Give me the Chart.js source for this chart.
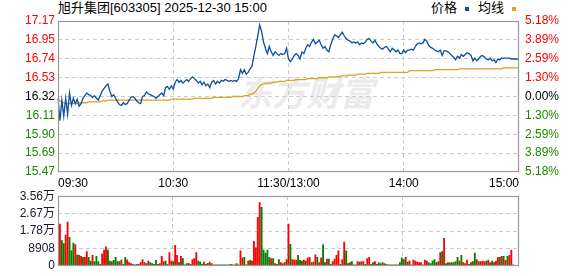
<!DOCTYPE html>
<html><head><meta charset="utf-8">
<script src="https://cdn.jsdelivr.net/npm/chart.js@4"></script>
<style>
html,body{margin:0;padding:0;background:#fff;width:578px;height:276px;overflow:hidden;}
#wrap{position:relative;width:578px;height:276px;font-family:"Liberation Sans","Noto Sans CJK SC",sans-serif;}
.t{position:absolute;font-size:13px;color:#000;white-space:nowrap;line-height:16px;}
#title{left:58px;top:0px;}
#legend{left:431px;top:0px;}
.sw{display:inline-block;width:4px;height:4px;vertical-align:middle;margin:0 9px 0 8px;}
#wm{position:absolute;left:238px;top:72px;font-size:34px;font-weight:bold;font-style:italic;color:#ebebeb;font-family:"Noto Sans CJK SC",sans-serif;line-height:40px;}
canvas{position:absolute;left:0;}
</style></head>
<body><div id="wrap">
<div id="wm">东方财富</div>
<div id="title" class="t">旭升集团[603305] 2025-12-30 15:00</div>
<div id="legend" class="t">价格<span class="sw" style="background:#0a4fa0"></span>均线<span class="sw" style="background:#e0a020"></span></div>
<canvas id="c1" width="578" height="192" style="top:0"></canvas>
<canvas id="c2" width="578" height="90" style="top:186px"></canvas>
</div>
<script>
const timeTickIdx = [0, 60, 120, 180, 240];
const timeTickLabels = ['09:30', '10:30', '11:30/13:00', '14:00', '15:00'];

const priceTicks = [15.4746, 15.6860, 15.8973, 16.1087, 16.32, 16.5313, 16.7427, 16.9540, 17.1654];
const priceLabels = ['15.47', '15.69', '15.90', '16.11', '16.32', '16.53', '16.74', '16.95', '17.17'];
const pctLabels = ['5.18%', '3.89%', '2.59%', '1.30%', '0.00%', '1.30%', '2.59%', '3.89%', '5.18%'];

const volTicks = [0, 8908, 17816, 26724, 35632];
const volLabels = ['0', '8908', '1.78万', '2.67万', '3.56万'];

const price = [
16.30,16.05,16.28,16.10,16.30,16.12,16.36,16.22,16.30,16.24,
16.29,16.21,16.24,16.30,16.33,16.36,16.34,16.33,16.31,16.33,
16.30,16.28,16.33,16.38,16.41,16.44,16.46,16.38,16.32,16.34,
16.30,16.26,16.23,16.22,16.25,16.23,16.24,16.28,16.31,16.32,
16.30,16.27,16.25,16.24,16.32,16.33,16.37,16.35,16.34,16.33,
16.32,16.30,16.32,16.34,16.36,16.33,16.42,16.43,16.40,16.44,
16.40,16.48,16.51,16.48,16.50,16.47,16.49,16.51,16.49,16.52,
16.54,16.52,16.50,16.47,16.49,16.45,16.48,16.44,16.46,16.42,
16.48,16.50,16.46,16.49,16.47,16.50,16.49,16.51,16.50,16.49,
16.50,16.49,16.50,16.49,16.52,16.62,16.58,16.62,16.57,16.59,
16.63,16.66,16.78,16.88,17.00,17.12,17.05,16.93,16.86,16.80,
16.88,16.82,16.78,16.82,16.80,16.78,16.80,16.79,16.80,16.86,
16.74,16.71,16.74,16.78,16.80,16.78,16.74,16.82,16.80,16.86,
16.90,16.88,16.93,16.96,16.91,16.93,16.95,16.90,16.86,16.88,
16.84,16.82,16.90,16.96,17.01,17.00,16.98,17.01,17.04,17.00,
16.97,16.95,16.94,16.92,16.93,16.92,16.93,16.90,16.92,16.91,
16.93,16.96,16.97,16.94,16.92,16.95,16.91,16.88,16.86,16.85,
16.87,16.88,16.85,16.82,16.86,16.84,16.82,16.84,16.80,16.80,
16.84,16.81,16.84,16.84,16.85,16.84,16.88,16.91,16.92,16.91,
16.92,16.96,16.94,16.89,16.87,16.86,16.84,16.83,16.82,16.84,
16.78,16.83,16.83,16.82,16.80,16.78,16.76,16.73,16.77,16.75,
16.79,16.77,16.79,16.81,16.80,16.78,16.72,16.75,16.72,16.74,
16.77,16.78,16.76,16.74,16.73,16.75,16.72,16.73,16.70,16.74,
16.73,16.75,16.75,16.75,16.75,16.75,16.74,16.74,16.74,16.74,16.73
];

const avgPrice = [
16.30,16.27,16.26,16.25,16.24,16.24,16.24,16.24,16.24,16.24,
16.24,16.25,16.25,16.25,16.25,16.25,16.26,16.26,16.26,16.26,
16.26,16.26,16.26,16.27,16.27,16.27,16.28,16.28,16.28,16.28,
16.28,16.28,16.28,16.28,16.28,16.28,16.28,16.28,16.28,16.28,
16.28,16.28,16.28,16.28,16.28,16.28,16.28,16.28,16.28,16.28,
16.28,16.28,16.28,16.28,16.28,16.28,16.28,16.28,16.28,16.29,
16.29,16.29,16.29,16.29,16.29,16.29,16.29,16.29,16.29,16.29,
16.29,16.30,16.30,16.30,16.30,16.30,16.30,16.30,16.30,16.30,
16.30,16.31,16.31,16.31,16.31,16.31,16.31,16.31,16.31,16.31,
16.31,16.32,16.32,16.32,16.32,16.32,16.32,16.33,16.33,16.33,
16.34,16.35,16.36,16.38,16.41,16.44,16.45,16.46,16.47,16.47,
16.47,16.47,16.48,16.48,16.48,16.49,16.49,16.49,16.49,16.50,
16.50,16.50,16.50,16.50,16.51,16.51,16.51,16.51,16.51,16.51,
16.52,16.52,16.52,16.52,16.52,16.52,16.53,16.53,16.53,16.53,
16.53,16.54,16.54,16.54,16.54,16.54,16.54,16.55,16.55,16.55,
16.55,16.56,16.56,16.56,16.56,16.56,16.57,16.57,16.57,16.57,
16.57,16.58,16.58,16.58,16.58,16.58,16.58,16.58,16.59,16.59,
16.59,16.59,16.59,16.59,16.59,16.59,16.59,16.59,16.59,16.59,
16.59,16.59,16.59,16.61,16.61,16.61,16.61,16.61,16.61,16.61,
16.61,16.61,16.61,16.61,16.61,16.61,16.62,16.62,16.62,16.62,
16.62,16.62,16.62,16.62,16.62,16.62,16.62,16.62,16.62,16.63,
16.63,16.63,16.63,16.63,16.63,16.63,16.63,16.63,16.63,16.63,
16.63,16.63,16.63,16.63,16.63,16.63,16.63,16.63,16.63,16.63,
16.63,16.63,16.64,16.64,16.64,16.64,16.64,16.64,16.64,16.64,16.64
];

const volume = [
33210,21384,12960,11340,15714,22356,14580,7614,11664,10854,
5670,5346,4860,4374,4374,7290,4374,2430,5346,2106,
4860,2106,810,5994,8100,9720,8100,2430,2106,2754,
4374,2106,2106,2916,810,4374,3078,1620,1134,810,
486,810,810,1620,3240,1620,1134,2430,1620,1134,
810,2754,810,1134,4860,2106,2430,810,6804,2430,
2106,10530,5346,1620,4860,3726,486,1134,1296,810,
3240,3726,6804,2430,1944,810,1944,810,1296,1944,
1134,486,486,486,486,486,486,486,486,486,
810,486,486,1134,486,7614,4050,4374,486,2430,
2916,2430,12474,9234,24786,32400,29970,8100,6480,8100,
4374,3726,3726,1134,810,3240,1620,1134,1620,3240,
21384,11016,3240,2916,2916,5346,2754,2430,2916,2430,
4050,4374,1620,1944,5670,4374,1620,4050,10854,1620,
3402,3402,810,2106,3402,5346,7614,810,3240,12150,
7614,1134,1620,2106,486,486,2106,1944,2106,2106,
810,3726,4374,810,1620,2106,810,1620,1134,1620,
1134,810,486,486,486,486,486,486,1620,4050,
3240,4374,1944,2430,486,2916,2430,1944,1620,1620,
486,2916,2430,1620,1134,2430,3240,1620,2106,6804,
7290,14094,1134,1620,1458,1620,1620,2106,4374,2430,
5346,1620,1134,2916,810,1620,2106,6480,3240,2106,
2106,2430,2106,2430,2916,1620,2430,1620,2430,4374,
4374,4860,4860,2754,4860,5346,8100,486,0,0,10206
];
// R = up (red), G = down (green)
const volumeDir =
 "GRGGRRGGGR" + "GRRGRRGGRG" + "GGRRRRGGRG" + "GGGRGGRRRG" + "GRRRRRGRGG" +
 "GGRRRRGGRR" + "GRRGRGGRRG" + "RRRGGGRGGR" + "RGGGGRGGGG" + "GGRGRRRGGR" +
 "GRRRRRGGGG" + "GRGRRGRRGR" + "R" +
 "GRRRGGGRGR" + "RGRRGRRGGR" + "GGRRRRGRRG" + "GRGGRRGRRG" + "RRGGRGGRGG" +
 "RGRGRRGGGG" + "RGRGRRRRRG" + "RRGGGGGRRG" + "RGGRGGGGRG" + "RRRGRGGRGR" +
 "RRGRGGRRRG" + "RGRGRRRGGG";

const labels = price.map((_, i) => {
  const m = i <= 120 ? 9 * 60 + 30 + i : 13 * 60 + (i - 120);
  return String(Math.floor(m / 60)).padStart(2, '0') + ':' + String(m % 60).padStart(2, '0');
});

const FONT = {family: '"Liberation Sans","Noto Sans CJK SC",sans-serif', size: 12};
const GRID = '#cccccc';
const RED = '#ff0000', GREEN = '#008000';

const boxPlugin = {
  id: 'box',
  afterDraw(chart) {
    const {ctx, chartArea: a} = chart;
    ctx.save();
    ctx.strokeStyle = '#9a9a9a';
    ctx.lineWidth = 1.2;
    ctx.setLineDash([]);
    const l = Math.round(a.left) + 0.5, t = Math.round(a.top) + 0.5;
    ctx.strokeRect(l, t, Math.round(a.right) - l - 0.5, Math.round(a.bottom) - t - 0.5);
    ctx.restore();
  }
};

const priceColor = i => i > 4 ? RED : (i === 4 ? '#000000' : '#1a8a00');

new Chart(document.getElementById('c1'), {
  type: 'line',
  data: {
    labels,
    datasets: [
      {data: price, borderColor: '#0a4fa0', borderWidth: 1.3, pointRadius: 0, tension: 0, order: 1},
      {data: avgPrice, borderColor: '#e0a020', borderWidth: 1.3, pointRadius: 0, tension: 0, order: 2}
    ]
  },
  options: {
    responsive: false, animation: false,
    layout: {padding: {top: 21, left: 0, right: 0, bottom: 0}},
    plugins: {legend: {display: false}, tooltip: {enabled: false}},
    scales: {
      x: {
        type: 'category', offset: false,
        grid: {color: c => [60, 120, 180].includes(c.index) ? GRID : 'rgba(0,0,0,0)', drawTicks: false, lineWidth: 1},
        border: {display: false, dash: [4, 3]},
        ticks: {autoSkip: false, maxRotation: 0, minRotation: 0, align: 'inner', padding: 4, color: '#000', font: FONT,
          callback: (v, i) => { const k = timeTickIdx.indexOf(i); return k >= 0 ? timeTickLabels[k] : ''; }},
        afterFit: s => { s.height = 20; }
      },
      y: {
        type: 'linear', position: 'left', min: priceTicks[0], max: priceTicks[8],
        afterBuildTicks: s => { s.ticks = priceTicks.map(v => ({value: v})); },
        grid: {color: c => (c.index === 0 || c.index === 8) ? 'rgba(0,0,0,0)' : GRID, drawTicks: false},
        border: {display: false, dash: [4, 3]},
        ticks: {padding: 3, font: FONT, color: c => priceColor(c.index), callback: (v, i) => priceLabels[i]},
        afterFit: s => { s.width = 58; }
      },
      y2: {
        type: 'linear', position: 'right', min: priceTicks[0], max: priceTicks[8],
        afterBuildTicks: s => { s.ticks = priceTicks.map(v => ({value: v})); },
        grid: {display: false, drawTicks: false},
        border: {display: false},
        ticks: {padding: 6, font: FONT, color: c => priceColor(c.index), callback: (v, i) => pctLabels[i]},
        afterFit: s => { s.width = 59; }
      }
    }
  },
  plugins: [boxPlugin]
});

new Chart(document.getElementById('c2'), {
  type: 'bar',
  data: {
    labels,
    datasets: [{
      data: volume,
      backgroundColor: volume.map((_, i) => volumeDir[i] === 'R' ? RED : GREEN),
      barThickness: 1.2
    }]
  },
  options: {
    responsive: false, animation: false,
    layout: {padding: {top: 10, left: 0, right: 59, bottom: 6}},
    plugins: {legend: {display: false}, tooltip: {enabled: false}},
    scales: {
      x: {
        type: 'category', offset: false,
        grid: {color: c => [60, 120, 180].includes(c.index) ? GRID : 'rgba(0,0,0,0)', drawTicks: false, lineWidth: 1},
        border: {display: false, dash: [4, 3]},
        ticks: {display: false, autoSkip: false}
      },
      y: {
        type: 'linear', position: 'left', min: volTicks[0], max: volTicks[4],
        afterBuildTicks: s => { s.ticks = volTicks.map(v => ({value: v})); },
        grid: {color: c => (c.index === 0 || c.index === 4) ? 'rgba(0,0,0,0)' : GRID, drawTicks: false},
        border: {display: false, dash: [4, 3]},
        ticks: {padding: 3, font: FONT, color: '#1a1a2a', callback: (v, i) => volLabels[i]},
        afterFit: s => { s.width = 58; }
      }
    }
  },
  plugins: [boxPlugin]
});
</script>
</body></html>
